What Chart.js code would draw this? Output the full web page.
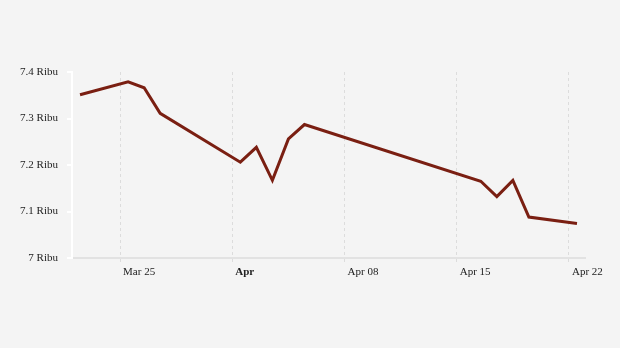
<!DOCTYPE html>
<html>
<head>
<meta charset="utf-8">
<script src="https://cdn.jsdelivr.net/npm/chart.js@4"></script>
<style>
html,body{margin:0;padding:0;background:#f4f4f4;}
#wrap{width:620px;height:348px;position:relative;}
</style>
</head>
<body>
<div id="wrap"><canvas id="c" width="620" height="348"></canvas></div>
<script>
const dates = ["2024-03-22","2024-03-25","2024-03-26","2024-03-27","2024-04-01","2024-04-02","2024-04-03","2024-04-04","2024-04-05","2024-04-16","2024-04-17","2024-04-18","2024-04-19","2024-04-22"];
const values = [7.351,7.379,7.366,7.311,7.206,7.238,7.167,7.256,7.287,7.165,7.132,7.167,7.088,7.074];
const tickDates = ["2024-03-25","2024-04-01","2024-04-08","2024-04-15","2024-04-22"];
const tickLabels = ["Mar 25","Apr","Apr 08","Apr 15","Apr 22"];
const yTicks = [7.0,7.1,7.2,7.3,7.4];
const yLabels = ["7 Ribu","7.1 Ribu","7.2 Ribu","7.3 Ribu","7.4 Ribu"];
const xStart = "2024-03-22", xEnd = "2024-04-23";

const dayNum = s => Date.UTC(+s.slice(0,4), +s.slice(5,7)-1, +s.slice(8,10)) / 86400000;
const points = dates.map((d,i) => ({x: dayNum(d) + 0.5, y: values[i]}));
const tickVals = tickDates.map(dayNum);

Chart.defaults.font.family = "'Liberation Serif','Times New Roman',serif";
Chart.defaults.font.size = 11;
Chart.defaults.color = '#333';

new Chart(document.getElementById('c'), {
  type: 'line',
  data: { datasets: [{
    data: points,
    borderColor: '#7a1f12',
    borderWidth: 3,
    pointRadius: 0,
    tension: 0,
    fill: false
  }]},
  options: {
    responsive: false,
    animation: false,
    layout: { padding: { top: 72, right: 35, left: 0, bottom: 0 } },
    plugins: { legend: { display: false }, tooltip: { enabled: false } },
    scales: {
      x: {
        type: 'linear',
        min: dayNum(xStart),
        max: dayNum(xEnd),
        afterBuildTicks: s => { s.ticks = tickVals.map(v => ({value: v})); },
        afterFit: s => { s.height = 90; },
        border: { display: true, color: '#e2e2e2', width: 2, dash: [3,3] },
        grid: { display: true, color: '#dcdcdc', lineWidth: 1, drawTicks: true, tickLength: 4, tickBorderDash: [3,3] },
        ticks: {
          autoSkip: false, maxRotation: 0, align: 'start', labelOffset: 3, padding: 4,
          font: ctx => ({ family: "'Liberation Serif','Times New Roman',serif", size: 11, weight: tickLabels[ctx.index] === 'Apr' ? 'bold' : 'normal' }),
          color: '#222',
          callback: (v, i) => tickLabels[i]
        }
      },
      y: {
        min: 7.0, max: 7.4,
        afterBuildTicks: s => { s.ticks = yTicks.map(v => ({value: v})); },
        afterFit: s => { s.width = 72; },
        border: { display: true, color: '#ffffff', width: 2 },
        grid: { drawOnChartArea: false, drawTicks: true, tickLength: 5, color: '#ffffff', lineWidth: 2 },
        ticks: { padding: 9, color: '#222', callback: (v, i) => yLabels[i] }
      }
    }
  }
});
</script>
</body>
</html>
